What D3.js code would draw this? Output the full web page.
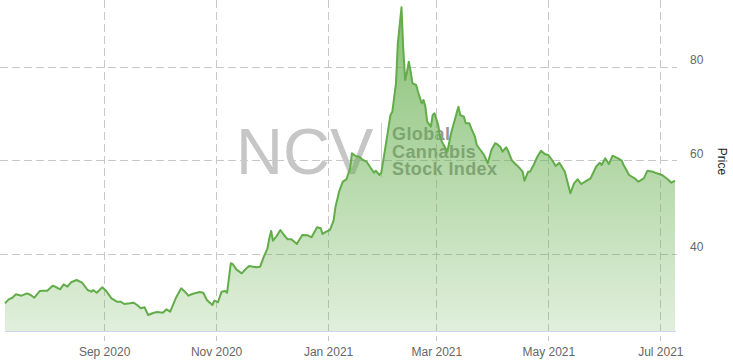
<!DOCTYPE html>
<html><head><meta charset="utf-8">
<script src="https://cdn.jsdelivr.net/npm/d3@7"></script>
<style>
body{margin:0;background:#fff}
svg{display:block}
text{font-family:"Liberation Sans",Arial,sans-serif}
</style>
</head><body>
<svg id="chart" width="733" height="364"></svg>
<script>
const dates = ["2020-07-09","2020-07-11","2020-07-13","2020-07-15","2020-07-18","2020-07-21","2020-07-23","2020-07-25","2020-07-28","2020-07-30",
"2020-08-01","2020-08-04","2020-08-06","2020-08-08","2020-08-10","2020-08-12","2020-08-14","2020-08-17","2020-08-20","2020-08-23",
"2020-08-25","2020-08-26","2020-08-28","2020-08-31","2020-09-02","2020-09-05","2020-09-08","2020-09-10","2020-09-12","2020-09-15",
"2020-09-17","2020-09-19","2020-09-21","2020-09-23","2020-09-25","2020-09-28","2020-09-30","2020-10-03","2020-10-05","2020-10-07",
"2020-10-10","2020-10-13","2020-10-15","2020-10-17","2020-10-19","2020-10-23","2020-10-25","2020-10-27","2020-10-28","2020-10-30",
"2020-10-31","2020-11-02","2020-11-04","2020-11-06","2020-11-07","2020-11-09","2020-11-10","2020-11-12","2020-11-15","2020-11-17",
"2020-11-19","2020-11-23","2020-11-25","2020-11-27","2020-11-29","2020-11-30","2020-12-01","2020-12-02","2020-12-04","2020-12-06",
"2020-12-08","2020-12-10","2020-12-12","2020-12-15","2020-12-16","2020-12-18","2020-12-21","2020-12-23","2020-12-26","2020-12-28",
"2020-12-29","2020-12-31","2021-01-02","2021-01-04","2021-01-05","2021-01-07","2021-01-09","2021-01-11","2021-01-13","2021-01-14",
"2021-01-16","2021-01-18","2021-01-20","2021-01-22","2021-01-24","2021-01-25","2021-01-26","2021-01-27","2021-01-29","2021-01-30",
"2021-02-01","2021-02-03","2021-02-04","2021-02-05","2021-02-07","2021-02-08","2021-02-10","2021-02-11","2021-02-12","2021-02-13",
"2021-02-14","2021-02-15","2021-02-16","2021-02-18","2021-02-19","2021-02-21","2021-02-22","2021-02-23","2021-02-24","2021-02-26",
"2021-02-27","2021-02-28","2021-03-02","2021-03-03","2021-03-04","2021-03-07","2021-03-09","2021-03-11","2021-03-13","2021-03-14",
"2021-03-16","2021-03-17","2021-03-19","2021-03-20","2021-03-22","2021-03-23","2021-03-25","2021-03-27","2021-03-29","2021-03-31",
"2021-04-02","2021-04-03","2021-04-05","2021-04-06","2021-04-08","2021-04-09","2021-04-11","2021-04-13","2021-04-15","2021-04-17",
"2021-04-18","2021-04-20","2021-04-21","2021-04-23","2021-04-25","2021-04-27","2021-04-29","2021-05-01","2021-05-03","2021-05-05",
"2021-05-07","2021-05-10","2021-05-13","2021-05-15","2021-05-17","2021-05-19","2021-05-21","2021-05-24","2021-05-27","2021-05-29",
"2021-05-30","2021-06-01","2021-06-03","2021-06-05","2021-06-08","2021-06-10","2021-06-11","2021-06-14","2021-06-17","2021-06-19",
"2021-06-20","2021-06-22","2021-06-24","2021-06-27","2021-06-29","2021-07-02","2021-07-05","2021-07-07","2021-07-09"];
const prices = [29.45,30.31,30.65,31.38,31.08,31.59,31.23,30.65,32.09,32.15,
32.15,33.22,32.88,32.45,33.52,33.01,33.95,34.44,33.86,32.30,
31.94,32.30,31.72,32.88,32.15,30.52,29.80,29.80,29.30,29.45,
29.58,29.09,28.39,28.60,26.95,27.44,27.59,27.44,28.17,27.66,
30.52,32.66,31.94,31.08,31.44,31.87,31.72,30.16,29.80,29.09,
30.01,29.67,31.94,32.09,31.72,38.01,37.86,36.70,35.87,36.73,
37.43,37.15,37.28,39.42,41.22,43.36,44.92,42.84,43.85,45.13,
44.06,43.14,43.14,42.14,42.84,44.06,44.00,43.57,45.71,45.50,
44.28,44.77,45.13,47.12,49.99,53.33,55.47,55.98,58.33,61.54,
60.96,60.81,60.11,59.74,58.55,57.97,57.39,57.82,56.90,57.39,
62.25,67.23,69.73,70.44,76.51,85.07,92.77,83.64,77.22,79.00,
81.13,79.00,76.51,76.15,74.72,72.23,72.94,71.51,68.30,67.23,
69.73,70.10,67.59,65.03,64.02,61.88,65.82,68.66,71.51,69.73,
69.37,67.96,67.96,66.89,65.09,63.32,62.25,61.18,59.40,62.25,
63.68,63.53,62.82,61.88,62.82,62.10,60.11,59.25,58.55,57.60,
55.68,57.60,57.60,59.04,60.81,62.10,61.39,61.18,60.11,58.82,
59.53,57.60,52.98,55.12,55.98,54.97,55.47,56.19,58.67,59.53,
59.04,60.47,59.25,61.03,60.47,59.96,59.04,56.90,56.19,55.47,
55.68,56.19,57.82,57.60,57.26,56.90,55.98,55.25,55.68];
const xDomain = ["2020-07-09","2021-07-09"];
const yDomain = [23.53, 94.33];
const xTickDates = ["2020-09-01","2020-11-01","2021-01-01","2021-03-01","2021-05-01","2021-07-01"];
const xTickLabels = ["Sep 2020","Nov 2020","Jan 2021","Mar 2021","May 2021","Jul 2021"];
const yTicks = [40, 60, 80];
const yAxisTitle = "Price";
const watermarkMain = "NCV";
const watermarkLines = ["Global","Cannabis","Stock Index"];

const parse = d3.utcParse("%Y-%m-%d");
const data = dates.map((d,i)=>({date:parse(d), value:prices[i]}));

const svg = d3.select("#chart");
const plotLeft = 5, plotRight = 676, plotTop = 0, plotBottom = 331;

const x = d3.scaleUtc().domain(xDomain.map(parse)).range([5, 675]);
const y = d3.scaleLinear().domain(yDomain).range([plotBottom, plotTop]);

// gradient
const defs = svg.append("defs");
const grad = defs.append("linearGradient").attr("id","areaGrad")
  .attr("gradientUnits","userSpaceOnUse").attr("x1",0).attr("y1",plotTop).attr("x2",0).attr("y2",plotBottom);
grad.append("stop").attr("offset","0%").attr("stop-color","#67b04f").attr("stop-opacity",0.8);
grad.append("stop").attr("offset","100%").attr("stop-color","#67b04f").attr("stop-opacity",0.2);

// watermark (under the series)
const wm = svg.append("g");
wm.append("text").attr("x",236).attr("y",174).attr("font-size",65).attr("fill","#c6c6c6").text(watermarkMain);
wm.append("line").attr("x1",381.5).attr("x2",381.5).attr("y1",123).attr("y2",177)
  .attr("stroke","#cfcfcf").attr("stroke-width",1);
const sub = wm.append("text").attr("x",392).attr("y",140)
  .attr("font-size",18).attr("font-weight","bold").attr("letter-spacing",0.4).attr("fill","#979797");
sub.selectAll("tspan").data(watermarkLines).join("tspan")
  .attr("x",392).attr("dy",(d,i)=>i===0?0:17.5).text(d=>d);

// horizontal grid
svg.append("g").selectAll("line").data(yTicks).join("line")
  .attr("x1",0).attr("x2",677)
  .attr("y1",d=>Math.round(y(d))+0.5).attr("y2",d=>Math.round(y(d))+0.5)
  .attr("stroke","#c8c8c8").attr("stroke-width",1).attr("stroke-dasharray","8,4");

// vertical grid
svg.append("g").selectAll("line").data(xTickDates).join("line")
  .attr("x1",d=>Math.round(x(parse(d)))+0.5).attr("x2",d=>Math.round(x(parse(d)))+0.5)
  .attr("y1",0).attr("y2",341)
  .attr("stroke","#c8c8c8").attr("stroke-width",1).attr("stroke-dasharray","8,4");

// area & line
const area = d3.area().x(d=>x(d.date)).y0(plotBottom).y1(d=>y(d.value)).curve(d3.curveLinear);
const line = d3.line().x(d=>x(d.date)).y(d=>y(d.value)).curve(d3.curveLinear);
svg.append("path").datum(data).attr("d",area).attr("fill","url(#areaGrad)");
svg.append("path").datum(data).attr("d",line).attr("fill","none")
  .attr("stroke","#62ac4a").attr("stroke-width",2).attr("stroke-linejoin","round");

// bottom axis
const xAxis = d3.axisBottom(x).tickValues(xTickDates.map(parse))
  .tickFormat((d,i)=>xTickLabels[i]).tickSize(0).tickPadding(16);
const gx = svg.append("g").attr("transform",`translate(0,${plotBottom})`).call(xAxis);
gx.select(".domain").attr("d",`M${plotLeft},0.5H${plotRight}`).attr("stroke","#ccd6eb");
gx.selectAll("text").attr("font-size",12).attr("fill","#666666")
  .attr("font-family","'Liberation Sans',Arial,sans-serif");

// right axis labels
const yAxis = d3.axisRight(y).tickValues(yTicks).tickSize(0).tickPadding(0);
const gy = svg.append("g").attr("transform","translate(690,-7)").call(yAxis);
gy.select(".domain").remove();
gy.selectAll("text").attr("font-size",12).attr("fill","#666666")
  .attr("font-family","'Liberation Sans',Arial,sans-serif");

// y axis title
svg.append("text").attr("transform","translate(718,161.5) rotate(90)")
  .attr("text-anchor","middle").attr("font-size",12).attr("fill","#222222").text(yAxisTitle);
</script>
</body></html>
